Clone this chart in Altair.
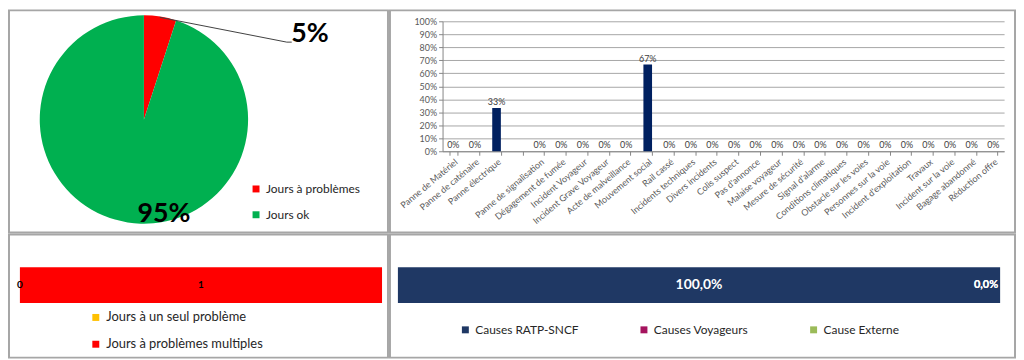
import altair as alt
import pandas as pd

# ---------------- data ----------------
pie_cats = ["Jours à problèmes", "Jours ok"]
pie_vals = [5, 95]
pie_colors = ["#FF0000", "#00B050"]

cause_cats = [
    "Panne de Matériel", "Panne de caténaire", "Panne électrique", " ",
    "Panne de signalisation", "Dégagement de fumée", "Incident Voyageur",
    "Incident Grave Voyageur", "Acte de malveillance", "Mouvement social",
    "Rail cassé", "Incidents techniques", "Divers incidents", "Colis suspect",
    "Pas d'annonce", "Malaise voyageur", "Mesure de sécurité", "Signal d'alarme",
    "Conditions climatiques", "Obstacle sur les voies", "Personnes sur la voie",
    "Incident d'exploitation", "Travaux", "Incident sur la voie",
    "Bagage abandonné", "Réduction offre",
]
cause_vals = [0, 0, 0.333, None, 0, 0, 0, 0, 0, 0.667, 0, 0, 0, 0, 0, 0,
              0, 0, 0, 0, 0, 0, 0, 0, 0, 0]
pct_ticks = [0, 0.1, 0.2, 0.3, 0.4, 0.5, 0.6, 0.7, 0.8, 0.9, 1.0]

multi_cats = ["Jours à un seul problème", "Jours à problèmes multiples"]
multi_vals = [0, 1]
multi_colors = ["#FFC000", "#FF0000"]

origin_cats = ["Causes RATP-SNCF", "Causes Voyageurs", "Cause Externe"]
origin_vals = [1.0, 0.0, 0.0]
origin_colors = ["#1F3864", "#A5135E", "#9BBB59"]

FONT = "Lato"
TXT = "#262626"
AX = "#595959"

# ---------------- top-left: pie ----------------
W1, H1 = 382, 224
W2 = 630
H2 = 124
CX, CY = 136, 110

pie_df = pd.DataFrame({"cat": pie_cats, "v": pie_vals,
                       "idx": list(range(len(pie_cats))),
                       "lab": [f"{v}%" for v in pie_vals]})
pie_base = alt.Chart(pie_df)

arcs = pie_base.mark_arc(radius=105).encode(
    theta=alt.Theta("v:Q", stack=True),
    order=alt.Order("idx:Q"),
    color=alt.Color("cat:N", scale=alt.Scale(domain=pie_cats, range=pie_colors),
                    legend=alt.Legend(title=None, orient="none", legendX=243, legendY=174,
                                      symbolType="square", symbolSize=49, symbolStrokeWidth=0,
                                      labelFont=FONT, labelFontSize=12, labelColor=TXT,
                                      rowPadding=14, padding=0, labelLimit=300)),
    x=alt.value(CX), y=alt.value(CY),
)

pie_lab_base = (pie_base
                .transform_joinaggregate(total="sum(v)")
                .transform_window(cum="sum(v)", sort=[alt.SortField("idx")], frame=[None, 0])
                .transform_calculate(mid="(datum.cum - datum.v / 2) / datum.total"))

small_lab = pie_lab_base.transform_filter("datum.idx == 0").mark_text(
    radius=105, dx=151, dy=18, fontSize=27, fontWeight="bold", font=FONT, color="black"
).encode(theta=alt.Theta("mid:Q", scale=alt.Scale(domain=[0, 1])), text="lab:N",
         x=alt.value(CX), y=alt.value(CY))

big_lab = pie_lab_base.transform_filter("datum.idx == 1").mark_text(
    radius=95, dx=35, dy=1, fontSize=27, fontWeight="bold", font=FONT, color="black"
).encode(theta=alt.Theta("mid:Q", scale=alt.Scale(domain=[0, 1])), text="lab:N",
         x=alt.value(CX), y=alt.value(CY))

lead1 = pie_base.transform_filter("datum.idx == 0").mark_rule(color="#404040", strokeWidth=1).encode(
    x=alt.value(152), y=alt.value(7), x2=alt.value(280), y2=alt.value(32))
lead2 = pie_base.transform_filter("datum.idx == 0").mark_rule(color="#404040", strokeWidth=1).encode(
    x=alt.value(280), y=alt.value(32), x2=alt.value(285), y2=alt.value(32))

tl = alt.layer(arcs, lead1, lead2, small_lab, big_lab).resolve_scale(
    theta="independent").properties(width=W1, height=H1)

# ---------------- top-right: causes bar chart ----------------
cause_df = pd.DataFrame({"cause": cause_cats, "v": cause_vals})

x_tr = alt.X("cause:N", sort=cause_cats,
             scale=alt.Scale(domain=cause_cats, range=[53, 619], paddingInner=0.6, paddingOuter=0.3),
             axis=alt.Axis(title=None, labelAngle=-40, labelFont=FONT, labelFontSize=9,
                           labelColor=AX, domainColor="#868686", tickColor="#868686",
                           tickSize=4, tickBand="extent", offset=-(H1 - 142), labelPadding=2,
                           grid=False, labelLimit=200))
y_tr = alt.Y("v:Q",
             scale=alt.Scale(domain=[0, 1], range=[142, 11], nice=False, zero=True),
             axis=alt.Axis(title=None, values=pct_ticks, format=".0%", labelFont=FONT,
                           labelFontSize=9, labelColor=AX, domainColor="#868686",
                           tickColor="#868686", tickSize=4, gridColor="#A6A6A6",
                           offset=-53, labelPadding=2))

tr_bars = alt.Chart(cause_df).mark_bar(color="#002060").encode(x=x_tr, y=y_tr)
tr_text = alt.Chart(cause_df).transform_filter("isValid(datum.v)").mark_text(
    dy=-6, fontSize=9, font=FONT, color="#404040"
).encode(x=x_tr, y=y_tr, text=alt.Text("v:Q", format=".0%"))

tr = alt.layer(tr_bars, tr_text).properties(width=W2, height=H1)

# ---------------- bottom-left: single vs multiple problems ----------------
multi_df = pd.DataFrame({"cat": multi_cats, "v": multi_vals,
                         "idx": list(range(len(multi_cats))), "row": ["r"] * len(multi_cats)})

y_band = alt.Y("row:N", scale=alt.Scale(range=[33, 69], paddingInner=0, paddingOuter=0), axis=None)
x_bl_scale = alt.Scale(domain=[0, 1], range=[11, 376])

bl_bars = alt.Chart(multi_df).mark_bar().encode(
    x=alt.X("v:Q", stack="normalize", scale=x_bl_scale, axis=None),
    y=y_band,
    order=alt.Order("idx:Q"),
    color=alt.Color("cat:N", scale=alt.Scale(domain=multi_cats, range=multi_colors),
                    legend=alt.Legend(title=None, orient="none", legendX=81, legendY=77,
                                      symbolType="square", symbolSize=49, symbolStrokeWidth=0,
                                      labelFont=FONT, labelFontSize=13, labelColor=TXT,
                                      rowPadding=13, padding=0, labelLimit=300)),
)
bl_text = (alt.Chart(multi_df)
           .transform_joinaggregate(total="sum(v)")
           .transform_window(cum="sum(v)", sort=[alt.SortField("idx")], frame=[None, 0])
           .transform_calculate(mid="(datum.cum - datum.v / 2) / datum.total")
           .mark_text(fontSize=10, fontWeight="bold", font=FONT, color="black")
           .encode(x=alt.X("mid:Q", scale=x_bl_scale, axis=None), y=y_band, text="v:Q"))

bl = alt.layer(bl_bars, bl_text).properties(width=W1, height=H2)

# ---------------- bottom-right: origin of causes ----------------
origin_df = pd.DataFrame({"cat": origin_cats, "v": origin_vals,
                          "idx": list(range(len(origin_cats))),
                          "row": ["r"] * len(origin_cats),
                          "lab": [f"{v * 100:.1f}%".replace(".", ",") for v in origin_vals]})
x_br_scale = alt.Scale(domain=[0, 1], range=[8, 615])

br_bars = alt.Chart(origin_df).mark_bar().encode(
    x=alt.X("v:Q", stack="zero", scale=x_br_scale, axis=None),
    y=y_band,
    order=alt.Order("idx:Q"),
    color=alt.Color("cat:N", scale=alt.Scale(domain=origin_cats, range=origin_colors),
                    legend=alt.Legend(title=None, orient="none", legendX=70, legendY=90,
                                      direction="horizontal", columns=3, columnPadding=59,
                                      symbolType="square", symbolSize=49, symbolStrokeWidth=0,
                                      labelFont=FONT, labelFontSize=12, labelColor=TXT,
                                      padding=0, labelLimit=300)),
)
br_lab_base = (alt.Chart(origin_df)
               .transform_joinaggregate(total="sum(v)")
               .transform_window(cum="sum(v)", sort=[alt.SortField("idx")], frame=[None, 0])
               .transform_calculate(mid="(datum.cum - datum.v / 2) / datum.total"))
br_text_main = br_lab_base.transform_filter("datum.v > 0").mark_text(
    fontSize=14, fontWeight="bold", font=FONT, color="white"
).encode(x=alt.X("mid:Q", scale=x_br_scale, axis=None), y=y_band, text="lab:N")
br_text_zero = br_lab_base.transform_filter("datum.v == 0").mark_text(
    fontSize=11, fontWeight="bold", font=FONT, color="white", align="right", dx=-2
).encode(x=alt.X("mid:Q", scale=x_br_scale, axis=None), y=y_band, text="lab:N")

br = alt.layer(br_bars, br_text_main, br_text_zero).properties(width=W2, height=H2)

# ---------------- assemble ----------------
chart = (alt.concat(tl, tr, bl, br, columns=2, spacing=2, bounds="flush")
         .resolve_scale(color="independent", x="independent", y="independent")
         .properties(padding=0, background="white")
         .configure_view(stroke="#A6A6A6", strokeWidth=2))

chart.save("out.html", embed_options={"renderer": "svg", "actions": False})
